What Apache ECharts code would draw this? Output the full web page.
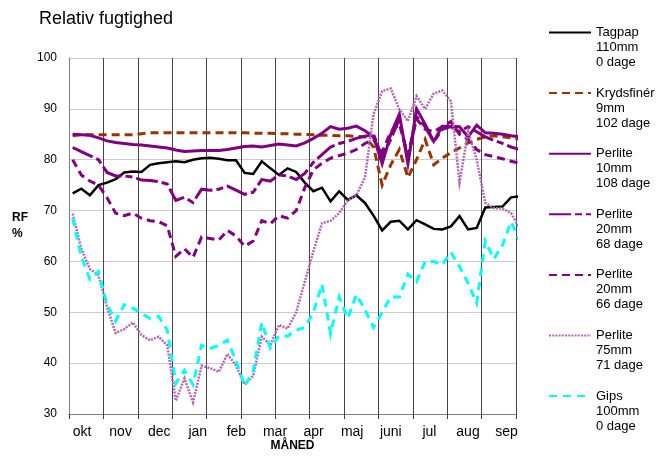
<!DOCTYPE html>
<html>
<head>
<meta charset="utf-8">
<script src="https://cdn.jsdelivr.net/npm/echarts@6/dist/echarts.min.js"></script>
<style>
html,body{margin:0;padding:0;background:#fff;}
#chart{width:667px;height:457px;}
</style>
</head>
<body>
<div id="chart"></div>
<script>
// Month labels (x axis)
const months = ['okt','nov','dec','jan','feb','mar','apr','maj','juni','jul','aug','sep'];
// Measurement day for each weekly reading (days from axis start)
const days = Array.from({length: 53}, (_, i) => 3 + 7 * i);

const seriesNames = [
  'Tagpap\n110mm\n0 dage',
  'Krydsfinér\n9mm\n102 dage',
  'Perlite\n10mm\n108 dage',
  'Perlite\n20mm\n68 dage',
  'Perlite\n20mm\n66 dage',
  'Perlite\n75mm\n71 dage',
  'Gips\n100mm\n0 dage'
];

const tagpap = [73.4,74.3,73.0,75.0,75.5,76.2,77.5,77.7,77.6,79.0,
  79.3,79.5,79.7,79.5,80.0,80.3,80.4,80.2,79.9,79.9,
  77.4,77.2,79.7,78.3,77.0,78.3,77.6,75.5,73.8,74.5,
  71.8,73.8,72.1,73.0,71.5,69.0,66.1,67.8,68.0,66.3,
  68.1,67.3,66.4,66.3,66.9,68.9,66.3,66.6,70.6,70.7,
  70.8,72.6,72.8];

const krydsfiner = [84.7,84.9,84.9,84.9,84.9,84.9,84.9,84.9,85.1,85.3,
  85.3,85.3,85.3,85.3,85.3,85.3,85.3,85.3,85.3,85.3,
  85.3,85.2,85.2,85.2,85.1,85.1,85.0,85.0,84.9,84.8,
  84.8,84.7,84.7,84.6,84.5,82.5,75.0,79.0,82.0,76.5,
  80.0,84.0,79.0,80.3,81.4,82.3,83.3,84.0,84.5,84.7,
  84.5,84.3,84.0];

const perlite10 = [85.0,84.9,84.8,84.3,83.7,83.4,83.2,83.0,82.9,82.7,
  82.5,82.3,81.9,81.6,81.7,81.8,81.8,81.8,82.0,82.3,
  82.6,82.7,82.5,82.8,83.1,82.9,82.7,83.3,84.2,85.2,
  86.5,86.0,86.2,86.6,85.7,84.5,79.2,85.0,89.0,79.2,
  90.0,87.0,83.6,86.6,86.6,86.5,84.5,86.8,85.3,85.2,
  85.0,84.7,84.5];

const perlite20a = [82.4,81.6,80.8,80.0,77.5,76.8,76.8,76.6,76.0,75.9,
  75.7,75.2,72.0,72.6,71.6,74.2,74.0,74.2,74.8,74.0,
  73.2,73.6,76.1,75.8,77.0,76.8,76.1,77.3,79.5,81.0,
  82.5,83.2,83.6,84.2,84.6,85.0,80.5,84.0,88.0,80.0,
  88.5,86.5,83.5,86.0,86.5,85.5,86.5,85.5,84.5,83.8,
  83.2,82.5,82.0];

const perlite20b = [80.0,77.0,75.8,75.0,72.5,69.5,69.0,69.5,68.5,68.0,
  67.8,67.0,61.0,62.5,60.8,64.8,64.5,64.2,66.1,65.0,
  63.0,64.0,68.0,67.4,69.0,68.5,70.0,74.5,78.0,79.3,
  80.3,80.8,81.3,82.0,83.2,84.0,81.5,85.5,87.0,81.0,
  88.0,86.0,85.5,86.5,87.5,85.0,84.0,82.0,81.0,80.6,
  80.2,79.7,79.3];

const perlite75 = [69.4,62.5,58.5,57.3,51.0,45.9,46.7,48.0,45.5,44.5,
  45.2,43.5,32.6,37.0,32.3,39.5,39.0,38.3,41.8,39.5,
  35.8,37.5,45.2,43.6,47.5,46.8,50.0,56.0,62.0,67.5,
  68.0,69.5,72.0,73.0,76.5,89.0,93.5,94.0,89.9,87.6,
  92.5,90.0,93.0,93.6,91.5,75.5,85.5,80.0,71.5,70.5,
  70.4,69.5,66.4];

const gips = [68.5,61.0,56.5,58.0,51.5,48.3,51.5,50.8,49.8,48.8,
  49.2,46.5,36.0,38.6,35.8,43.5,42.9,43.5,44.5,40.5,
  35.5,38.4,48.0,43.0,45.4,45.3,46.5,47.0,50.0,55.5,
  45.8,53.0,48.8,53.5,50.5,47.0,50.0,53.0,53.0,57.5,
  56.0,60.0,60.0,59.3,61.8,59.0,55.7,51.8,64.0,60.5,
  63.2,67.8,64.0];

const allValues = [tagpap, krydsfiner, perlite10, perlite20a, perlite20b, perlite75, gips];
const styles = [
  {color:'#000000', width:2.5, type:'solid'},
  {color:'#993300', width:3, type:[8,5]},
  {color:'#800080', width:3, type:'solid'},
  {color:'#800080', width:3, type:[22,4,7,4]},
  {color:'#800080', width:3, type:[8,5]},
  {color:'#b366b3', width:2.5, type:[2,1.2]},
  {color:'#00ffff', width:3, type:[8,6]}
];

const FONT = '"Liberation Sans", Arial, sans-serif';
const chart = echarts.init(document.getElementById('chart'), null, {renderer:'canvas'});

const series = allValues.map((vals, i) => ({
  name: seriesNames[i],
  type: 'line',
  xAxisIndex: 0,
  yAxisIndex: 0,
  data: vals.map((v, j) => [days[j], v]),
  symbol: 'none',
  clip: false,
  animation: false,
  color: styles[i].color,
  lineStyle: {color: styles[i].color, width: styles[i].width, type: styles[i].type, cap:'butt', join:'miter'}
}));

chart.setOption({
  animation: false,
  backgroundColor: '#ffffff',
  textStyle: {fontFamily: FONT},
  title: {
    text: 'Relativ fugtighed',
    left: 34, top: 5,
    textStyle: {fontSize: 18, fontWeight: 'normal', color: '#000', fontFamily: FONT}
  },
  graphic: [
    {type:'text', left: 12, top: 210, style:{text:'RF\n%', font:'bold 12px ' + FONT, fill:'#000', lineHeight:16}}
  ],
  legend: {
    orient: 'vertical',
    left: 548,
    top: -5,
    padding: 0,
    itemGap: -14.4,
    itemWidth: 42,
    itemHeight: 10,
    selectedMode: false,
    itemStyle: {opacity: 0},
    // two blank lines above so the sample line sits beside the first text line
    formatter: name => '\n\n' + name,
    textStyle: {fontSize: 13, lineHeight: 15, color: '#000', fontFamily: FONT},
    data: seriesNames
  },
  grid: [
    {left: 69, right: 151, top: 58, bottom: 41, containLabel: false},
    {left: 62.7, width: 463.2, top: 58, bottom: 41, containLabel: false}
  ],
  xAxis: [
    {
      type: 'value', gridIndex: 0, min: 0, max: 364, interval: 28,
      axisLine: {show: true, lineStyle: {color: '#808080', width: 1}},
      axisTick: {show: true, length: 5, lineStyle: {color: '#404040'}},
      axisLabel: {show: false},
      splitLine: {show: true, lineStyle: {color: '#454545', width: 1}},
      name: 'MÅNED', nameLocation: 'middle', nameGap: 32,
      nameTextStyle: {fontSize: 12, fontWeight: 'bold', color: '#000', fontFamily: FONT, verticalAlign: 'middle'}
    },
    {
      type: 'category', gridIndex: 1, data: months, boundaryGap: true,
      axisLine: {show: false}, axisTick: {show: false}, splitLine: {show: false},
      axisLabel: {fontSize: 14, color: '#000', margin: 9, fontFamily: FONT, interval: 0}
    }
  ],
  yAxis: [
    {
      type: 'value', gridIndex: 0, min: 30, max: 100, interval: 10,
      axisLine: {show: true, lineStyle: {color: '#808080', width: 1}},
      axisTick: {show: false},
      axisLabel: {fontSize: 12, color: '#000', margin: 12, fontFamily: FONT},
      splitLine: {show: true, lineStyle: {color: '#cccccc', width: 1}}
    },
    {
      type: 'value', gridIndex: 1, show: false, min: 0, max: 1,
      splitLine: {show: false}
    }
  ],
  series: series
});
</script>
</body>
</html>
